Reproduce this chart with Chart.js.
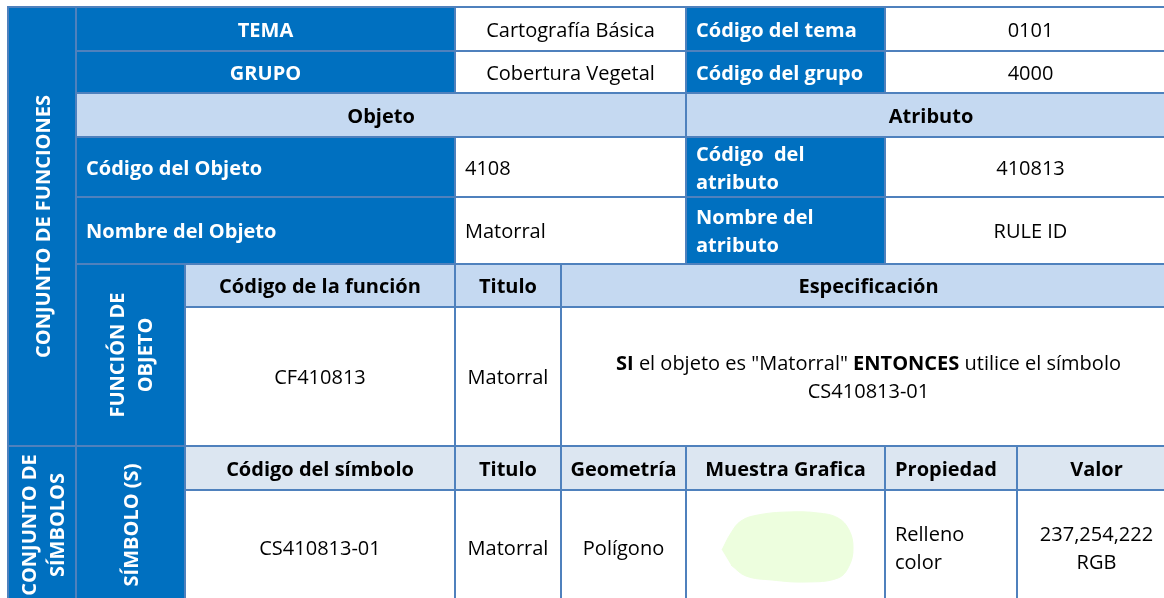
<!DOCTYPE html>
<html>
<head>
<meta charset="utf-8">
<script src="https://cdn.jsdelivr.net/npm/chart.js@4.4.1/dist/chart.umd.min.js"></script>
<style>
html, body { margin: 0; padding: 0; background: #fff; overflow: hidden; }
canvas { display: block; }
</style>
</head>
<body>
<canvas id="tabla" width="1164" height="598"></canvas>
<script>
// textos de la tabla
const filaTema = ["TEMA", "Cartografía Básica", "Código del tema", "0101"];
const filaGrupo = ["GRUPO", "Cobertura Vegetal", "Código del grupo", "4000"];
const encabezadosObjAtr = ["Objeto", "Atributo"];
const filaCodigo = ["Código del Objeto", "4108", "Código  del\natributo", "410813"];
const filaNombre = ["Nombre del Objeto", "Matorral", "Nombre del\natributo", "RULE ID"];
const titulosLaterales = ["CONJUNTO DE FUNCIONES", "FUNCIÓN DE\nOBJETO", "CONJUNTO DE\nSÍMBOLOS", "SÍMBOLO (S)"];
const encabezadosFuncion = ["Código de la función", "Titulo", "Especificación"];
const valoresFuncion = ["CF410813", "Matorral", '**SI** el objeto es "Matorral" **ENTONCES** utilice el símbolo\nCS410813-01'];
const encabezadosSimbolo = ["Código del símbolo", "Titulo", "Geometría", "Muestra Grafica", "Propiedad", "Valor"];
const valoresSimbolo = ["CS410813-01", "Matorral", "Polígono", "", "Relleno\ncolor", "237,254,222\nRGB"];

// contorno de la muestra grafica (relleno 237,254,222)
const muestraX = [722, 731, 741, 758, 788, 818, 838, 849, 853, 849, 838, 806, 772, 746, 731];
const muestraY = [550, 533, 521, 515, 512, 513, 518, 530, 548, 566, 578, 582, 580, 576, 565];

// rejilla (bordes de columnas y filas)
const bordesCol = [8, 76, 185, 455, 561, 686, 885, 1017, 1176];
const bordesFila = [7, 51, 93, 137, 197, 264, 307, 446, 490, 604];

const AZUL = "#0070c0";
const CLARO = "#c5d9f1";
const PALIDO = "#dce6f1";
const BORDE = "#4f81bd";

// [col0, col1, fila0, fila1, texto, estilo, alineacion]
const celdas = [
    [0, 1, 0, 7, titulosLaterales[0], "azul", "rot"],
    [1, 3, 0, 1, filaTema[0], "azul", "centro"],
    [3, 5, 0, 1, filaTema[1], "blanco", "centro"],
    [5, 6, 0, 1, filaTema[2], "azul", "izq"],
    [6, 8, 0, 1, filaTema[3], "blanco", "centro"],
    [1, 3, 1, 2, filaGrupo[0], "azul", "centro"],
    [3, 5, 1, 2, filaGrupo[1], "blanco", "centro"],
    [5, 6, 1, 2, filaGrupo[2], "azul", "izq"],
    [6, 8, 1, 2, filaGrupo[3], "blanco", "centro"],
    [1, 5, 2, 3, encabezadosObjAtr[0], "claro", "centro"],
    [5, 8, 2, 3, encabezadosObjAtr[1], "claro", "centro"],
    [1, 3, 3, 4, filaCodigo[0], "azul", "izq"],
    [3, 5, 3, 4, filaCodigo[1], "blanco", "izq"],
    [5, 6, 3, 4, filaCodigo[2], "azul", "izq"],
    [6, 8, 3, 4, filaCodigo[3], "blanco", "centro"],
    [1, 3, 4, 5, filaNombre[0], "azul", "izq"],
    [3, 5, 4, 5, filaNombre[1], "blanco", "izq"],
    [5, 6, 4, 5, filaNombre[2], "azul", "izq"],
    [6, 8, 4, 5, filaNombre[3], "blanco", "centro"],
    [1, 2, 5, 7, titulosLaterales[1], "azul", "rot"],
    [2, 3, 5, 6, encabezadosFuncion[0], "claro", "centro"],
    [3, 4, 5, 6, encabezadosFuncion[1], "claro", "centro"],
    [4, 8, 5, 6, encabezadosFuncion[2], "claro", "centro"],
    [2, 3, 6, 7, valoresFuncion[0], "blanco", "centro"],
    [3, 4, 6, 7, valoresFuncion[1], "blanco", "centro"],
    [4, 8, 6, 7, valoresFuncion[2], "blanco", "centro"],
    [0, 1, 7, 9, titulosLaterales[2], "azul", "rot"],
    [1, 2, 7, 9, titulosLaterales[3], "azul", "rot"]
];
encabezadosSimbolo.forEach((t, i) => {
    celdas.push([i + 2, i + 3, 7, 8, t, "palido", i === 4 ? "izq" : "centro"]);
});
valoresSimbolo.forEach((t, i) => {
    celdas.push([i + 2, i + 3, 8, 9, t, "blanco", i === 4 ? "izq" : "centro"]);
});

const fondos = { azul: AZUL, claro: CLARO, palido: PALIDO, blanco: "#ffffff" };
const TAM = 20;
const INTERLINEA = 28;
const AJUSTE_Y = 2; // Open Sans queda un poco alta con 'middle'

function fuente(negrita) {
    return (negrita ? "bold " : "") + TAM + 'px "Open Sans"';
}

// dibuja una linea con tramos en negrita marcados con **
function dibujarLinea(ctx, linea, x, y, alin, negritaBase) {
    const tramos = linea.split("**").map((t, i) => ({ t: t, b: negritaBase || i % 2 === 1 }));
    let ancho = 0;
    tramos.forEach(s => { ctx.font = fuente(s.b); s.w = ctx.measureText(s.t).width; ancho += s.w; });
    let cx = alin === "izq" ? x : x - ancho / 2;
    ctx.textAlign = "left";
    tramos.forEach(s => {
        ctx.font = fuente(s.b);
        ctx.fillText(s.t, cx, y);
        cx += s.w;
    });
}

const pluginTabla = {
    id: "tabla",
    beforeDatasetsDraw(chart) {
        const ctx = chart.ctx;
        const sx = chart.scales.x, sy = chart.scales.y;
        const caja = c => ({
            x0: sx.getPixelForValue(bordesCol[c[0]]),
            x1: sx.getPixelForValue(bordesCol[c[1]]),
            y0: sy.getPixelForValue(bordesFila[c[2]]),
            y1: sy.getPixelForValue(bordesFila[c[3]])
        });
        ctx.save();
        celdas.forEach(c => {
            const b = caja(c);
            ctx.fillStyle = fondos[c[5]];
            ctx.fillRect(b.x0, b.y0, b.x1 - b.x0, b.y1 - b.y0);
        });
        ctx.strokeStyle = BORDE;
        ctx.lineWidth = 2;
        celdas.forEach(c => {
            const b = caja(c);
            ctx.strokeRect(b.x0, b.y0, b.x1 - b.x0, b.y1 - b.y0);
        });
        ctx.textBaseline = "middle";
        celdas.forEach(c => {
            if (!c[4]) return;
            const b = caja(c);
            const negrita = c[5] !== "blanco";
            ctx.fillStyle = c[5] === "azul" ? "#ffffff" : "#000000";
            const lineas = c[4].split("\n");
            const n = lineas.length;
            if (c[6] === "rot") {
                ctx.save();
                ctx.translate((b.x0 + b.x1) / 2 + AJUSTE_Y, (b.y0 + b.y1) / 2);
                ctx.rotate(-Math.PI / 2);
                lineas.forEach((l, i) => dibujarLinea(ctx, l, 0, (i - (n - 1) / 2) * INTERLINEA, "centro", true));
                ctx.restore();
            } else {
                const x = c[6] === "izq" ? b.x0 + 10 : (b.x0 + b.x1) / 2;
                const yc = (b.y0 + b.y1) / 2 + AJUSTE_Y;
                lineas.forEach((l, i) => dibujarLinea(ctx, l, x, yc + (i - (n - 1) / 2) * INTERLINEA, c[6], negrita));
            }
        });
        ctx.restore();
    }
};

new Chart(document.getElementById("tabla"), {
    type: "scatter",
    data: {
        datasets: [{
            label: "Muestra Grafica",
            data: muestraX.map((x, i) => ({ x: x, y: muestraY[i] })),
            showLine: true,
            fill: "shape",
            backgroundColor: "rgb(237, 254, 222)",
            borderColor: "rgb(237, 254, 222)",
            borderWidth: 1,
            tension: 0.4,
            pointRadius: 0
        }]
    },
    options: {
        responsive: false,
        devicePixelRatio: 1,
        animation: false,
        layout: { padding: 0 },
        scales: {
            x: { type: "linear", min: 0, max: 1164, display: false },
            y: { type: "linear", min: 0, max: 598, reverse: true, display: false }
        },
        plugins: {
            legend: { display: false },
            tooltip: { enabled: false }
        }
    },
    plugins: [pluginTabla]
});
</script>
</body>
</html>
